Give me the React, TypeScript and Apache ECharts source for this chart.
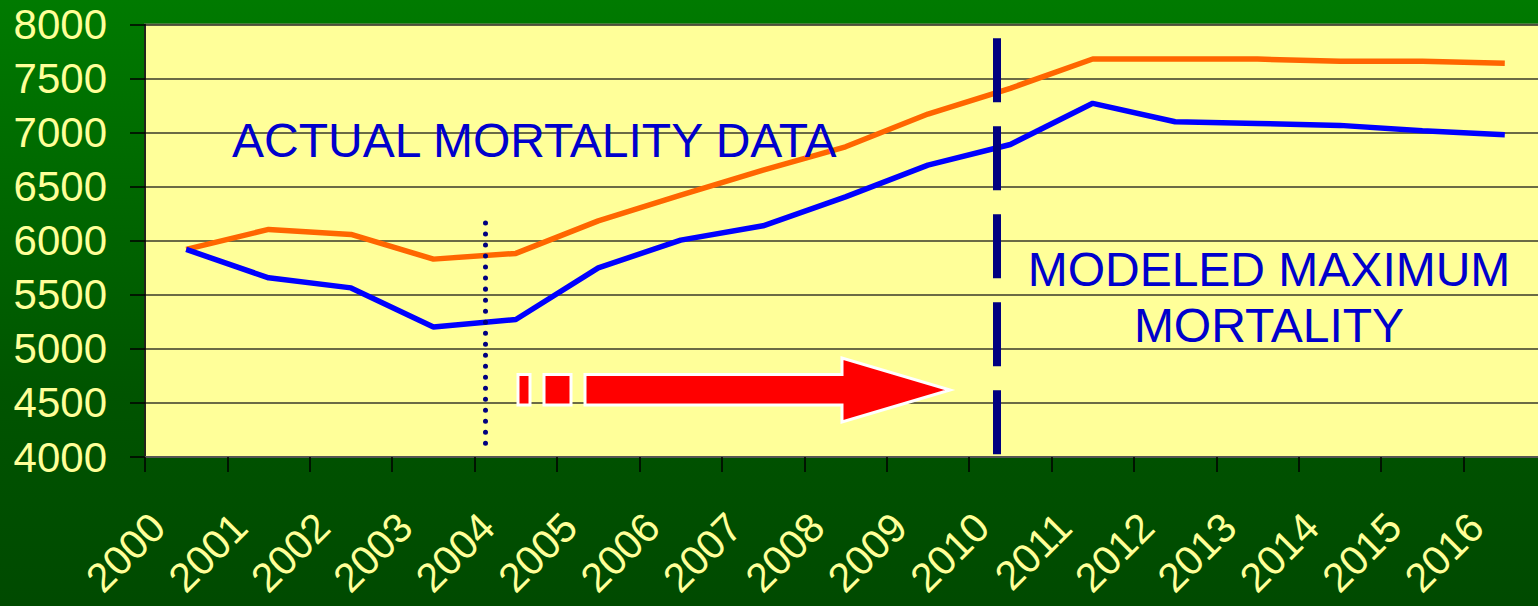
import React, { useEffect, useRef } from "react";
import * as echarts from "echarts";

const years = ["2000", "2001", "2002", "2003", "2004", "2005", "2006", "2007", "2008", "2009", "2010", "2011", "2012", "2013", "2014", "2015", "2016"];
const actualMortality = [5920, 5657, 5564, 5203, 5272, 5749, 6006, 6138, 6406, 6700, 6890, 7271, 7101, 7085, 7067, 7017, 6980];
const modeledMaximum = [5920, 6105, 6058, 5830, 5883, 6184, 6422, 6653, 6869, 7172, 7410, 7681, 7681, 7680, 7659, 7660, 7641];
const yTicks = { min: 4000, max: 8000, interval: 500 };
// reference lines, in category-index units on a hidden value axis
const dottedLine = { x: 4.13, from: 4127, to: 6255 };
const dashedLine = { x: 10.34, from: 4025, to: 7875 };

const FONT = "'Liberation Sans', Arial, Helvetica, sans-serif";

export default function App() {
  const ref = useRef<HTMLDivElement>(null);
  useEffect(() => {
    if (!ref.current) return;
    const chart = echarts.init(ref.current, null, { renderer: "svg" });
    chart.setOption({
      animation: false,
      backgroundColor: new echarts.graphic.LinearGradient(0, 0, 0, 1, [
        { offset: 0, color: "#007a00" },
        { offset: 0.65, color: "#005400" },
        { offset: 1, color: "#004a00" },
      ]),
      grid: {
        left: 145,
        top: 24.5,
        width: 1401,
        height: 432.5,
        containLabel: false,
        outerBoundsMode: "none",
        show: true,
        backgroundColor: "#FFFF99",
        borderColor: "#8a8a70",
        borderWidth: 2,
      },
      xAxis: [
        {
          type: "category",
          data: years,
          boundaryGap: true,
          axisLine: { show: true, lineStyle: { color: "#555", width: 2 } },
          axisTick: { show: true, length: 15, lineStyle: { color: "#000", width: 1.5 } },
          axisLabel: {
            interval: 0,
            rotate: 45,
            margin: 35,
            padding: [0, 40, 0, 0],
            color: "#FFFF99",
            fontSize: 41,
            fontFamily: FONT,
          },
          splitLine: { show: false },
        },
        {
          type: "value",
          min: 0,
          max: 17,
          show: false,
        },
      ],
      yAxis: {
        type: "value",
        min: yTicks.min,
        max: yTicks.max,
        interval: yTicks.interval,
        axisLine: { show: true, lineStyle: { color: "#000", width: 1.5 } },
        axisTick: { show: true, length: 15, lineStyle: { color: "#000", width: 1.5 } },
        axisLabel: {
          margin: 38,
          color: "#FFFF99",
          fontSize: 42,
          fontFamily: FONT,
          formatter: (v: number) => String(v),
        },
        splitLine: { show: true, lineStyle: { color: "#3a3a2a", width: 1.5 } },
      },
      series: [
        {
          name: "Modeled maximum",
          type: "line",
          data: modeledMaximum,
          showSymbol: false,
          symbol: "none",
          lineStyle: { color: "#FF6600", width: 5.5 },
          z: 3,
        },
        {
          name: "Actual mortality",
          type: "line",
          data: actualMortality,
          showSymbol: false,
          symbol: "none",
          lineStyle: { color: "#0000FF", width: 5.5 },
          z: 4,
        },
        {
          name: "refs",
          type: "line",
          xAxisIndex: 1,
          yAxisIndex: 0,
          data: [],
          z: 5,
          markLine: {
            silent: true,
            symbol: ["none", "none"],
            label: { show: false },
            data: [
              [
                { coord: [dottedLine.x, dottedLine.from], lineStyle: { color: "#000080", width: 5, type: [0.01, 11], cap: "round" } },
                { coord: [dottedLine.x, dottedLine.to] },
              ],
              [
                { coord: [dashedLine.x, dashedLine.from], lineStyle: { color: "#000080", width: 8, type: [64, 24], cap: "butt" } },
                { coord: [dashedLine.x, dashedLine.to] },
              ],
            ],
          },
        },
      ],
      graphic: [
        {
          type: "text",
          left: 232,
          top: 116,
          z: 10,
          style: { text: "ACTUAL MORTALITY DATA", fill: "#0000CC", font: `48px ${FONT}` },
        },
        {
          type: "text",
          x: 1269,
          y: 269,
          z: 10,
          style: { text: "MODELED MAXIMUM", fill: "#0000CC", font: `48px ${FONT}`, align: "center", verticalAlign: "middle" },
        },
        {
          type: "text",
          x: 1269,
          y: 325,
          z: 10,
          style: { text: "MORTALITY", fill: "#0000CC", font: `48px ${FONT}`, align: "center", verticalAlign: "middle" },
        },
        {
          type: "rect",
          z: 10,
          shape: { x: 518, y: 374.5, width: 12, height: 30.5 },
          style: { fill: "#FF0000", stroke: "#FFFFFF", lineWidth: 3 },
        },
        {
          type: "rect",
          z: 10,
          shape: { x: 544, y: 374.5, width: 27, height: 30.5 },
          style: { fill: "#FF0000", stroke: "#FFFFFF", lineWidth: 3 },
        },
        {
          type: "polygon",
          z: 10,
          shape: {
            points: [
              [585, 374.5],
              [842, 374.5],
              [842, 358],
              [950, 390],
              [842, 422],
              [842, 405],
              [585, 405],
            ],
          },
          style: { fill: "#FF0000", stroke: "#FFFFFF", lineWidth: 3, lineJoin: "miter" },
        },
      ],
    });
    return () => chart.dispose();
  }, []);
  return <div ref={ref} style={{ position: "fixed", left: 0, top: 0, width: 1538, height: 606 }} />;
}
